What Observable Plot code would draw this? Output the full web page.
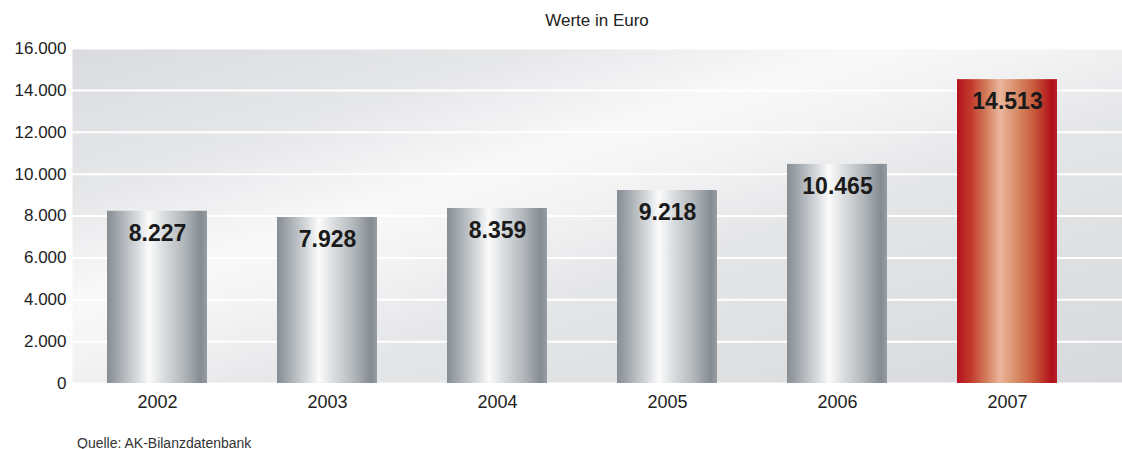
<!DOCTYPE html>
<html>
<head>
<meta charset="utf-8">
<script src="https://cdn.jsdelivr.net/npm/d3@7"></script>
<script src="https://cdn.jsdelivr.net/npm/@observablehq/plot@0.6"></script>
<style>
  html, body { margin: 0; padding: 0; background: #ffffff; }
  body { width: 1122px; height: 449px; overflow: hidden; font-family: "Liberation Sans", Arial, sans-serif; color: #222; }
  #subtitle { height: 38px; line-height: 42px; padding-left: 72px; text-align: center; font-size: 17px; color: #222; overflow: visible; }
  #caption { margin-top: 15px; line-height: 20px; padding-left: 77px; font-size: 14px; color: #333; }
  svg { display: block; }
</style>
</head>
<body>
<div id="subtitle">Werte in Euro</div>
<div id="chart"></div>
<div id="caption">Quelle: AK-Bilanzdatenbank</div>
<script>
const years = ["2002", "2003", "2004", "2005", "2006", "2007"];
const values = [8227, 7928, 8359, 9218, 10465, 14513];
const highlightYears = ["2007"];
const yTicks = [0, 2000, 4000, 6000, 8000, 10000, 12000, 14000, 16000];

const de = d3.formatLocale({decimal: ",", thousands: ".", grouping: [3], currency: ["", " €"]});
const fmt = de.format(",d");

const data = years.map((y, i) => ({year: y, value: values[i], label: fmt(values[i])}));

const defs = () => {
  const g = document.createElementNS("http://www.w3.org/2000/svg", "g");
  g.innerHTML = `
  <defs>
    <linearGradient id="silver" x1="0" y1="0" x2="1" y2="0">
      <stop offset="0" stop-color="#868d93"/>
      <stop offset="0.12" stop-color="#a5abb0"/>
      <stop offset="0.3" stop-color="#d7dadd"/>
      <stop offset="0.42" stop-color="#fbfbfb"/>
      <stop offset="0.55" stop-color="#dde0e2"/>
      <stop offset="0.75" stop-color="#b5babe"/>
      <stop offset="0.94" stop-color="#858c92"/>
      <stop offset="1" stop-color="#979da2"/>
    </linearGradient>
    <linearGradient id="red" x1="0" y1="0" x2="1" y2="0">
      <stop offset="0" stop-color="#b3121c"/>
      <stop offset="0.14" stop-color="#c23a2c"/>
      <stop offset="0.3" stop-color="#d4805f"/>
      <stop offset="0.43" stop-color="#eab69c"/>
      <stop offset="0.57" stop-color="#da936f"/>
      <stop offset="0.77" stop-color="#c85a3b"/>
      <stop offset="0.95" stop-color="#b10f1a"/>
      <stop offset="1" stop-color="#b8202a"/>
    </linearGradient>
    <linearGradient id="bg" x1="0" y1="0" x2="1" y2="1">
      <stop offset="0" stop-color="#dadbde"/>
      <stop offset="0.22" stop-color="#e6e7e9"/>
      <stop offset="0.38" stop-color="#f9f9fa"/>
      <stop offset="0.47" stop-color="#f3f3f4"/>
      <stop offset="0.6" stop-color="#e5e6e8"/>
      <stop offset="0.8" stop-color="#dedfe1"/>
      <stop offset="1" stop-color="#d8d9dc"/>
    </linearGradient>
  </defs>`;
  return g;
};

const chart = Plot.plot({
  width: 1122,
  height: 380,
  marginTop: 10,
  marginBottom: 35,
  marginLeft: 72,
  marginRight: 0,
  style: {fontFamily: "Liberation Sans, Arial, sans-serif", background: "transparent", color: "#222"},
  x: {domain: years, paddingInner: 0.41, paddingOuter: 0.29, align: 0.35, label: null},
  y: {domain: [0, 16000], label: null},
  marks: [
    defs,
    Plot.frame({fill: "url(#bg)", stroke: null}),
    Plot.gridY(yTicks, {stroke: "#ffffff", strokeOpacity: 1, strokeWidth: 2}),
    Plot.barY(data.filter(d => !highlightYears.includes(d.year)), {x: "year", y: "value", fill: "url(#silver)"}),
    Plot.barY(data.filter(d => highlightYears.includes(d.year)), {x: "year", y: "value", fill: "url(#red)"}),
    Plot.text(data, {x: "year", y: "value", text: "label", dy: 22, fontSize: 23, fontWeight: "bold", fill: "#1a1a1a"}),
    Plot.axisY(yTicks, {tickSize: 0, tickPadding: 6, tickFormat: d => fmt(d), fontSize: 17, label: null, fill: "#222"}),
    Plot.axisX({tickSize: 0, tickPadding: 12, fontSize: 18, label: null, fill: "#222"})
  ]
});
document.getElementById("chart").appendChild(chart);
</script>
</body>
</html>
